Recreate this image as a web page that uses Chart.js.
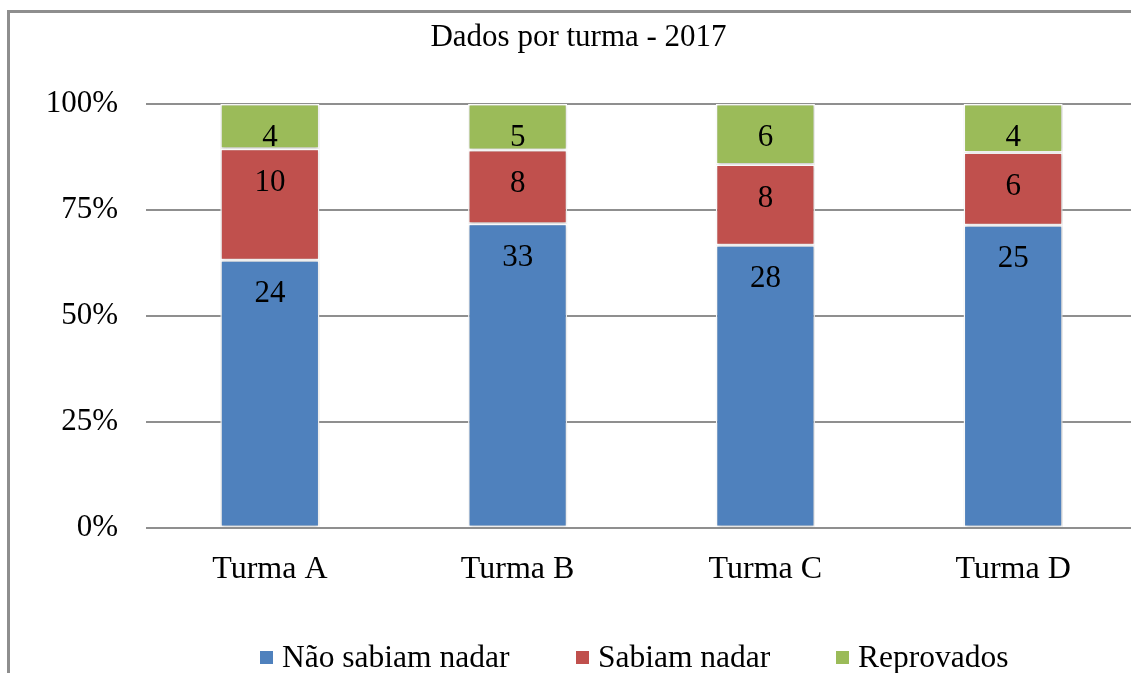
<!DOCTYPE html>
<html>
<head>
<meta charset="utf-8">
<script src="https://cdn.jsdelivr.net/npm/chart.js@4.4.1/dist/chart.umd.min.js"></script>
<style>
  html, body { margin:0; padding:0; width:1131px; height:673px; overflow:hidden; background:#fff; }
  #frame { position:absolute; left:7px; top:10px; width:1200px; height:700px; border-left:3px solid #8e8e8e; border-top:3px solid #8e8e8e; box-sizing:border-box; }
  #wrap { position:absolute; left:10px; top:13px; width:1121px; height:660px; overflow:hidden; }
  #legend { position:absolute; left:0; top:0; width:1131px; height:673px; pointer-events:none; font-family:"Liberation Serif", "Times New Roman", serif; font-size:31.5px; color:#000; }
  .sw { position:absolute; width:13px; height:13px; top:651px; }
  .lt { position:absolute; top:641px; line-height:31px; white-space:nowrap; }
</style>
</head>
<body>
<div id="frame"></div>
<div id="wrap"><canvas id="c" width="1137" height="660"></canvas></div>
<div id="legend"></div>
<script>
const categories = ['Turma A', 'Turma B', 'Turma C', 'Turma D'];
const seriesNames = ['Não sabiam nadar', 'Sabiam nadar', 'Reprovados'];
const naoSabiam = [24, 33, 28, 25];
const sabiam = [10, 8, 8, 6];
const reprovados = [4, 5, 6, 4];
const yTickValues = [0, 25, 50, 75, 100];
const chartTitle = 'Dados por turma - 2017';

const colors = ['#4F81BD', '#C0504D', '#9BBB59'];
const counts = [naoSabiam, sabiam, reprovados];
const totals = categories.map((_, i) => naoSabiam[i] + sabiam[i] + reprovados[i]);
const pct = arr => arr.map((v, i) => v / totals[i] * 100);

const FONT = '"Liberation Serif", "Times New Roman", serif';

const shadowPlugin = {
  id: 'barShadow',
  beforeDatasetsDraw(chart) {
    const ctx = chart.ctx;
    ctx.save();
    ctx.shadowColor = 'rgba(0,0,0,0.28)';
    ctx.shadowBlur = 3;
    ctx.shadowOffsetX = 0.5;
    ctx.shadowOffsetY = 0.5;
  },
  afterDatasetsDraw(chart) {
    chart.ctx.restore();
  }
};

const titlePlugin = {
  id: 'titleText',
  afterDraw(chart) {
    const ctx = chart.ctx;
    ctx.save();
    ctx.font = '31px ' + FONT;
    ctx.fillStyle = '#000';
    ctx.textAlign = 'center';
    ctx.textBaseline = 'middle';
    ctx.fillText(chartTitle, chart.width / 2, 24.5);
    ctx.restore();
  }
};

const labelPlugin = {
  id: 'segLabels',
  afterDraw(chart) {
    const ctx = chart.ctx;
    ctx.save();
    ctx.font = '31px ' + FONT;
    ctx.fillStyle = '#000';
    ctx.textAlign = 'center';
    ctx.textBaseline = 'middle';
    chart.data.datasets.forEach((ds, di) => {
      const meta = chart.getDatasetMeta(di);
      meta.data.forEach((bar, i) => {
        const top = Math.min(bar.y, bar.base);
        ctx.fillText(String(counts[di][i]), bar.x, top + 34);
      });
    });
    ctx.restore();
  }
};

new Chart(document.getElementById('c'), {
  type: 'bar',
  data: {
    labels: categories,
    datasets: seriesNames.map((name, k) => ({
      label: name,
      data: pct(counts[k]),
      backgroundColor: colors[k],
      borderColor: '#ffffff',
      borderWidth: 1.5,
      borderSkipped: false,
      barPercentage: 0.4,
      categoryPercentage: 1.0
    }))
  },
  options: {
    responsive: false,
    animation: false,
    devicePixelRatio: 1,
    layout: { padding: { left: 0, right: 10, top: 91, bottom: 0 } },
    plugins: {
      legend: { display: false },
      tooltip: { enabled: false },
      title: { display: false }
    },
    scales: {
      x: {
        stacked: true,
        grid: { display: false, drawTicks: false },
        border: { display: false },
        ticks: { color: '#000', font: { family: FONT, size: 32 }, padding: 22 },
        afterFit(scale) { scale.height = 145; }
      },
      y: {
        stacked: true,
        min: 0,
        max: 100,
        afterBuildTicks(scale) { scale.ticks = yTickValues.map(v => ({ value: v })); },
        grid: { color: '#8f8f8f', lineWidth: 2, drawTicks: false },
        border: { display: false },
        ticks: { color: '#000', font: { family: FONT, size: 31 }, padding: 28, callback: v => v + '%' },
        afterFit(scale) { scale.width = 136; }
      }
    }
  },
  plugins: [shadowPlugin, labelPlugin, titlePlugin]
});

// HTML legend
const legendPos = [[260, 282], [576, 598], [836, 858]];
const lg = document.getElementById('legend');
seriesNames.forEach((name, k) => {
  const sw = document.createElement('div');
  sw.className = 'sw';
  sw.style.left = legendPos[k][0] + 'px';
  sw.style.background = colors[k];
  lg.appendChild(sw);
  const t = document.createElement('div');
  t.className = 'lt';
  t.style.left = legendPos[k][1] + 'px';
  t.textContent = name;
  lg.appendChild(t);
});
</script>
</body>
</html>
